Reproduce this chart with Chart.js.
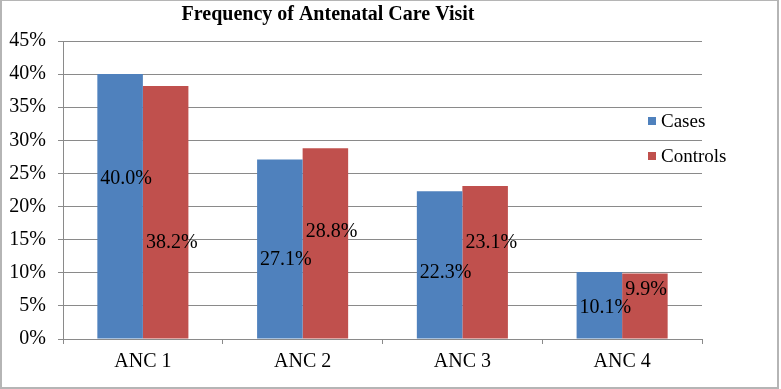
<!DOCTYPE html>
<html>
<head>
<meta charset="utf-8">
<title>Frequency of Antenatal Care Visit</title>
<script src="https://cdn.jsdelivr.net/npm/chart.js@4.4.0/dist/chart.umd.min.js"></script>
<style>
    body { margin: 0; background: #fff; }
    #wrap { width: 781px; height: 389px; }
</style>
</head>
<body>
<div id="wrap"><canvas id="anc" width="781" height="389"></canvas></div>
<script>
    // values (percent)
    var categories = ['ANC 1', 'ANC 2', 'ANC 3', 'ANC 4'];
    var cases = [40.0, 27.1, 22.3, 10.1];
    var controls = [38.2, 28.8, 23.1, 9.9];
    var seriesNames = ['Cases', 'Controls'];

    var blue = '#4F81BD', red = '#C0504D', gridGrey = '#8a8a8a';
    var serif = '"Liberation Serif", "Times New Roman", serif';

    // nudges (px) of each value label from the middle of its bar
    var labelNudge = [[-28, 11, 8, 2], [30, -12, -20, -16]];

    var extras = {
        id: 'extras',
        afterDraw: function (chart) {
            var ctx = chart.ctx;
            ctx.save();
            // outer frame
            ctx.strokeStyle = '#b5b5b5';
            ctx.lineWidth = 2;
            ctx.strokeRect(1, 0, 777, 388);

            // title
            ctx.fillStyle = '#000';
            ctx.font = 'bold 20px ' + serif;
            ctx.textAlign = 'center';
            ctx.textBaseline = 'middle';
            ctx.fillText('Frequency of Antenatal Care Visit', 328, 15);

            // value labels
            ctx.font = '20px ' + serif;
            ctx.textAlign = 'left';
            chart.data.datasets.forEach(function (ds, i) {
                chart.getDatasetMeta(i).data.forEach(function (bar, j) {
                    var mid = (bar.y + bar.base) / 2 + labelNudge[i][j];
                    ctx.fillText(ds.data[j].toFixed(1) + '%', bar.x - bar.width / 2 + 3, mid);
                });
            });

            // legend
            ctx.font = '19px ' + serif;
            var ly = [121, 156];
            chart.data.datasets.forEach(function (ds, i) {
                ctx.fillStyle = ds.backgroundColor;
                ctx.fillRect(648, ly[i] - 4, 8, 8);
                ctx.fillStyle = '#000';
                ctx.fillText(ds.label, 661, ly[i] + 1);
            });
            ctx.restore();
        }
    };

    new Chart(document.getElementById('anc'), {
        type: 'bar',
        data: {
            labels: categories,
            datasets: [
                { label: seriesNames[0], data: cases, backgroundColor: blue },
                { label: seriesNames[1], data: controls, backgroundColor: red }
            ]
        },
        options: {
            responsive: false,
            animation: false,
            layout: { padding: { left: 0, right: 79, top: 41, bottom: 0 } },
            plugins: { legend: { display: false }, tooltip: { enabled: false } },
            datasets: { bar: { categoryPercentage: 0.57, barPercentage: 1.0 } },
            scales: {
                x: {
                    afterFit: function (s) { s.height = 50; },
                    grid: { offset: true, drawOnChartArea: false, tickLength: 5, color: gridGrey },
                    border: { color: gridGrey },
                    ticks: { color: '#000', padding: 6, font: { family: serif, size: 20 } }
                },
                y: {
                    min: 0, max: 45,
                    afterFit: function (s) { s.width = 63; },
                    grid: { color: gridGrey, tickLength: 5 },
                    border: { color: gridGrey },
                    ticks: {
                        stepSize: 5, color: '#000', padding: 12,
                        font: { family: serif, size: 20 },
                        callback: function (v) { return v + '%'; }
                    }
                }
            }
        },
        plugins: [extras]
    });
</script>
</body>
</html>
